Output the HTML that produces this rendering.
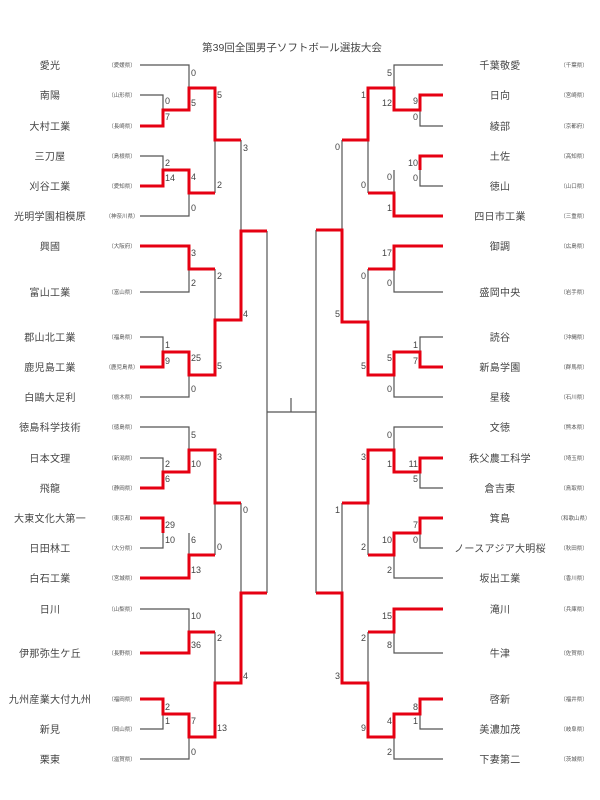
<!DOCTYPE html>
<html><head><meta charset="utf-8"><style>
html,body{margin:0;padding:0;background:#fff;}
svg{display:block;}
.n{font-family:"Liberation Sans","Noto Sans CJK JP",sans-serif;font-size:10px;fill:#444;text-anchor:middle;letter-spacing:0.3px;}
.p{font-family:"Liberation Sans","Noto Sans CJK JP",sans-serif;font-size:5.5px;fill:#555;text-anchor:middle;}
.s{font-family:"Liberation Sans",sans-serif;font-size:9px;fill:#444;}
.r{text-anchor:end;}
.b{fill:none;stroke:#555;stroke-width:1.2;}
.red{fill:none;stroke:#e60012;stroke-width:3;stroke-linejoin:miter;}
</style></head><body>
<svg width="600" height="800" viewBox="0 0 600 800">
<text x="292" y="51" class="n" style="font-size:10.5px;letter-spacing:0">第39回全国男子ソフトボール選抜大会</text>

<!-- LEFT black lines -->
<path class="b" d="M140 65H189V88 M140 95H163V110 M140 156H163V170 M140 216H189V193 M215 140V193 M241 140V231
M140 292H189V269 M215 269V320 M140 337H163V352 M140 397H189V375
M140 427H189V450 M140 458H163V472 M215 503V555 M140 548H163V533 M189 533V555 M241 503V593
M140 609H189V632 M215 632V683 M140 729H163V714 M140 759H189V737
M267 231V593 M267 412H316 M291 398V412 M316 230V593"/>
<!-- LEFT red -->
<path class="red" d="M140 126H163V110H189V88H215V140H241"/>
<path class="red" d="M140 186H163V170H189V193H215"/>
<path class="red" d="M140 246H189V269H215"/>
<path class="red" d="M140 367H163V352H189V375H215V320H241V231H267"/>
<path class="red" d="M140 488H163V472H189V450H215V503H241"/>
<path class="red" d="M140 518H163V533"/>
<path class="red" d="M140 578H189V555H215"/>
<path class="red" d="M140 653H189V632H215"/>
<path class="red" d="M140 699H163V714H189V737H215V683H241V593H267"/>

<!-- RIGHT black -->
<path class="b" d="M443 65H394V88 M443 126H420V110 M443 186H420V170 M394 170V193 M368 140V193 M342 140V230
M443 292H394V269 M368 269V322 M443 337H420V352 M443 397H394V375
M443 427H394V450 M443 488H420V472 M342 503V593 M368 503V555 M443 548H420V533 M443 578H394V555
M443 653H394V632 M368 632V683 M443 729H420V714 M443 759H394V737"/>
<!-- RIGHT red -->
<path class="red" d="M443 95H420V110H394V88H368V140H342"/>
<path class="red" d="M443 156H420V170"/>
<path class="red" d="M443 216H394V193H368"/>
<path class="red" d="M443 246H394V269H368"/>
<path class="red" d="M443 367H420V352H394V375H368V322H342V230H316"/>
<path class="red" d="M443 458H420V472H394V450H368V503H342"/>
<path class="red" d="M443 518H420V533H394V555H368"/>
<path class="red" d="M443 609H394V632H368"/>
<path class="red" d="M443 699H420V714H394V737H368V683H342V593H316"/>

<!-- LEFT names -->
<g class="n">
<text x="50" y="69">愛光</text><text x="50" y="99">南陽</text><text x="50" y="130">大村工業</text>
<text x="50" y="160">三刀屋</text><text x="50" y="190">刈谷工業</text><text x="50" y="220">光明学園相模原</text>
<text x="50" y="250">興國</text><text x="50" y="296">富山工業</text><text x="50" y="341">郡山北工業</text>
<text x="50" y="371">鹿児島工業</text><text x="50" y="401">白鷗大足利</text><text x="50" y="431">徳島科学技術</text>
<text x="50" y="462">日本文理</text><text x="50" y="492">飛龍</text><text x="50" y="522">大東文化大第一</text>
<text x="50" y="552">日田林工</text><text x="50" y="582">白石工業</text><text x="50" y="613">日川</text>
<text x="50" y="657">伊那弥生ケ丘</text><text x="50" y="703">九州産業大付九州</text><text x="50" y="733">新見</text>
<text x="50" y="763">栗東</text>
</g>
<g class="p">
<text x="122" y="67">（愛媛県）</text><text x="122" y="97">（山形県）</text><text x="122" y="128">（長崎県）</text>
<text x="122" y="158">（島根県）</text><text x="122" y="188">（愛知県）</text><text x="122" y="218">（神奈川県）</text>
<text x="122" y="248">（大阪府）</text><text x="122" y="294">（富山県）</text><text x="122" y="339">（福島県）</text>
<text x="122" y="369">（鹿児島県）</text><text x="122" y="399">（栃木県）</text><text x="122" y="429">（徳島県）</text>
<text x="122" y="460">（新潟県）</text><text x="122" y="490">（静岡県）</text><text x="122" y="520">（東京都）</text>
<text x="122" y="550">（大分県）</text><text x="122" y="580">（宮城県）</text><text x="122" y="611">（山梨県）</text>
<text x="122" y="655">（長野県）</text><text x="122" y="701">（福岡県）</text><text x="122" y="731">（岡山県）</text>
<text x="122" y="761">（滋賀県）</text>
</g>
<!-- RIGHT names -->
<g class="n">
<text x="500" y="69">千葉敬愛</text><text x="500" y="99">日向</text><text x="500" y="130">綾部</text>
<text x="500" y="160">土佐</text><text x="500" y="190">徳山</text><text x="500" y="220">四日市工業</text>
<text x="500" y="250">御調</text><text x="500" y="296">盛岡中央</text><text x="500" y="341">読谷</text>
<text x="500" y="371">新島学園</text><text x="500" y="401">星稜</text><text x="500" y="431">文徳</text>
<text x="500" y="462">秩父農工科学</text><text x="500" y="492">倉吉東</text><text x="500" y="522">箕島</text>
<text x="500" y="552">ノースアジア大明桜</text><text x="500" y="582">坂出工業</text><text x="500" y="613">滝川</text>
<text x="500" y="657">牛津</text><text x="500" y="703">啓新</text><text x="500" y="733">美濃加茂</text>
<text x="500" y="763">下妻第二</text>
</g>
<g class="p">
<text x="574" y="67">（千葉県）</text><text x="574" y="97">（宮崎県）</text><text x="574" y="128">（京都府）</text>
<text x="574" y="158">（高知県）</text><text x="574" y="188">（山口県）</text><text x="574" y="218">（三重県）</text>
<text x="574" y="248">（広島県）</text><text x="574" y="294">（岩手県）</text><text x="574" y="339">（沖縄県）</text>
<text x="574" y="369">（群馬県）</text><text x="574" y="399">（石川県）</text><text x="574" y="429">（熊本県）</text>
<text x="574" y="460">（埼玉県）</text><text x="574" y="490">（鳥取県）</text><text x="574" y="520">（和歌山県）</text>
<text x="574" y="550">（秋田県）</text><text x="574" y="580">（香川県）</text><text x="574" y="611">（兵庫県）</text>
<text x="574" y="655">（佐賀県）</text><text x="574" y="701">（福井県）</text><text x="574" y="731">（岐阜県）</text>
<text x="574" y="761">（茨城県）</text>
</g>

<!-- LEFT scores -->
<g class="s">
<text x="191" y="76">0</text><text x="165" y="104">0</text><text x="165" y="120">7</text><text x="191" y="106">5</text>
<text x="217" y="98">5</text><text x="243" y="151">3</text><text x="165" y="166">2</text><text x="165" y="181">14</text>
<text x="191" y="180">4</text><text x="217" y="188">2</text><text x="191" y="211">0</text>
<text x="191" y="256">3</text><text x="191" y="286">2</text><text x="217" y="279">2</text><text x="243" y="317">4</text>
<text x="165" y="348">1</text><text x="165" y="364">9</text><text x="191" y="361">25</text><text x="217" y="369">5</text><text x="191" y="392">0</text>
<text x="191" y="438">5</text><text x="165" y="467">2</text><text x="165" y="482">6</text><text x="191" y="467">10</text>
<text x="217" y="460">3</text><text x="243" y="513">0</text><text x="165" y="528">29</text><text x="165" y="543">10</text>
<text x="191" y="543">6</text><text x="217" y="550">0</text><text x="191" y="573">13</text>
<text x="191" y="619">10</text><text x="191" y="648">36</text><text x="217" y="641">2</text><text x="243" y="679">4</text>
<text x="165" y="710">2</text><text x="165" y="724">1</text><text x="191" y="724">7</text><text x="217" y="731">13</text><text x="191" y="755">0</text>
</g>
<!-- RIGHT scores -->
<g class="s r">
<text x="392" y="76">5</text><text x="392" y="106">12</text><text x="418" y="104">9</text><text x="418" y="120">0</text>
<text x="366" y="98">1</text><text x="340" y="150">0</text><text x="418" y="166">10</text><text x="418" y="181">0</text>
<text x="392" y="180">0</text><text x="392" y="211">1</text><text x="366" y="188">0</text>
<text x="392" y="256">17</text><text x="392" y="286">0</text><text x="366" y="279">0</text><text x="340" y="317">5</text>
<text x="418" y="348">1</text><text x="418" y="364">7</text><text x="392" y="361">5</text><text x="366" y="369">5</text><text x="392" y="392">0</text>
<text x="392" y="438">0</text><text x="392" y="467">1</text><text x="418" y="467">11</text><text x="418" y="482">5</text>
<text x="366" y="460">3</text><text x="340" y="513">1</text><text x="418" y="528">7</text><text x="418" y="543">0</text>
<text x="392" y="543">10</text><text x="366" y="550">2</text><text x="392" y="573">2</text>
<text x="392" y="619">15</text><text x="392" y="648">8</text><text x="366" y="641">2</text><text x="340" y="679">3</text>
<text x="418" y="710">8</text><text x="418" y="724">1</text><text x="392" y="724">4</text><text x="366" y="731">9</text><text x="392" y="755">2</text>
</g>
</svg>
</body></html>
